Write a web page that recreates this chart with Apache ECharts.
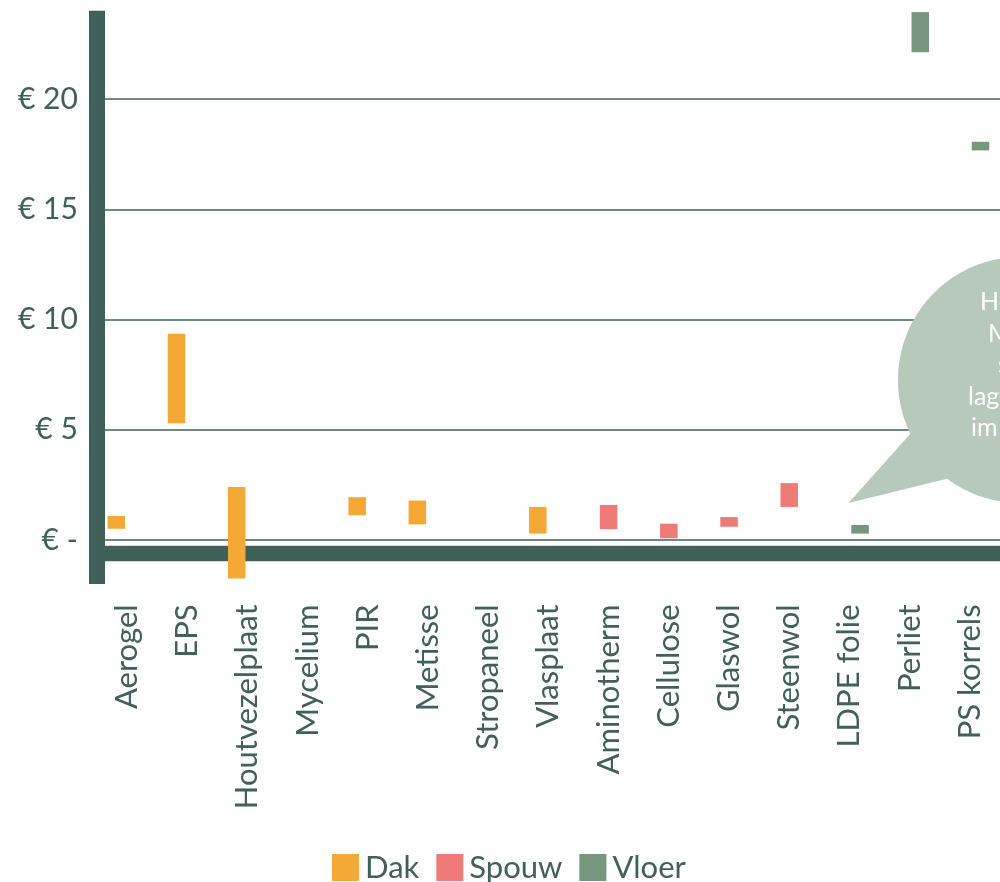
<!DOCTYPE html>
<html>
<head>
<meta charset="utf-8">
<script src="https://cdn.jsdelivr.net/npm/echarts@6/dist/echarts.min.js"></script>
<style>
  html, body { margin: 0; padding: 0; background: #ffffff; }
  #chart { width: 1000px; height: 882px; }
</style>
</head>
<body>
<div id="chart"></div>
<script>
// ---- data ----
const categories = ['Aerogel', 'EPS', 'Houtvezelplaat', 'Mycelium', 'PIR', 'Metisse', 'Stropaneel',
  'Vlasplaat', 'Aminotherm', 'Cellulose', 'Glaswol', 'Steenwol', 'LDPE folie', 'Perliet', 'PS korrels'];
// price range (low / high) per category, in euro
const dakLow   = [0.51, 5.30, -1.75, null, 1.12, 0.71, null, 0.29, null, null, null, null, null, null, null];
const dakHigh  = [1.09, 9.35,  2.40, null, 1.94, 1.79, null, 1.50, null, null, null, null, null, null, null];
const spouwLow  = [null, null, null, null, null, null, null, null, 0.49, 0.08, 0.60, 1.50, null, null, null];
const spouwHigh = [null, null, null, null, null, null, null, null, 1.59, 0.74, 1.04, 2.58, null, null, null];
const vloerLow  = [null, null, null, null, null, null, null, null, null, null, null, null, 0.29, 22.12, 17.67];
const vloerHigh = [null, null, null, null, null, null, null, null, null, null, null, null, 0.68, 23.94, 18.06];
const gridValues = [0, 5, 10, 15, 20];
const seriesNames = ['Dak', 'Spouw', 'Vloer'];
const bubbleLines = ['Hoe de', 'MKI', 'score', 'lager de', 'im'];

// ---- style ----
const DARK = '#40605A';
const COLORS = ['#F4A836', '#EE7B77', '#76967D'];
const FONT = 'Lato';

const lows = [dakLow, spouwLow, vloerLow];
const highs = [dakHigh, spouwHigh, vloerHigh];

const series = [];
seriesNames.forEach((name, i) => {
  const base = lows[i];
  const span = highs[i].map((h, k) => (h == null || base[k] == null) ? null : +(h - base[k]).toFixed(3));
  const baseSeries = {
    name: name + '_base',
    type: 'bar',
    stack: 's' + i,
    stackStrategy: 'all',
    barWidth: 17.5,
    barGap: '-39.4%',
    itemStyle: { color: 'transparent' },
    emphasis: { disabled: true },
    silent: true,
    z: 1,
    data: base
  };
  if (i === 0) {
    baseSeries.markLine = {
      silent: true,
      z: 1,
      symbol: 'none',
      label: { show: false },
      lineStyle: { color: DARK, width: 1.5, type: 'solid' },
      emphasis: { disabled: true },
      data: gridValues.map(v => ({ yAxis: v }))
    };
  }
  series.push(baseSeries);
  series.push({
    name: name,
    type: 'bar',
    stack: 's' + i,
    stackStrategy: 'all',
    barWidth: 17.5,
    barGap: '-39.4%',
    itemStyle: { color: COLORS[i] },
    z: 3,
    data: span
  });
});

const chart = echarts.init(document.getElementById('chart'), null, { renderer: 'canvas' });

const bubbleText = bubbleLines.map((t, i) => ({
  type: 'text',
  z: 12,
  style: {
    text: t,
    x: [980, 988, 998, 968, 971][i],
    y: 302 + i * 31.5,
    fill: '#ffffff',
    font: '25px ' + FONT,
    textVerticalAlign: 'middle',
    textAlign: 'left'
  }
}));

chart.setOption({
  animation: false,
  backgroundColor: '#ffffff',
  textStyle: { fontFamily: FONT },
  grid: { left: 96.8, top: 10.8, width: 909, height: 573.3, containLabel: false },
  legend: {
    data: seriesNames,
    left: 327,
    top: 847,
    icon: 'rect',
    itemWidth: 27,
    itemHeight: 27,
    itemGap: 17,
    textStyle: { color: DARK, fontSize: 31, fontFamily: FONT, padding: [0, 0, 0, 1] },
    selectedMode: false
  },
  xAxis: {
    type: 'category',
    data: categories,
    offset: -30.7,
    axisLine: { show: true, onZero: false, lineStyle: { color: DARK, width: 15.3, cap: 'butt' } },
    axisTick: { show: false },
    axisLabel: {
      rotate: 90,
      margin: 51,
      interval: 0,
      color: DARK,
      fontSize: 31,
      fontFamily: FONT
    },
    splitLine: { show: false }
  },
  yAxis: {
    type: 'value',
    min: -2,
    max: 24,
    axisLine: { show: true, lineStyle: { color: DARK, width: 16, cap: 'butt' } },
    axisTick: { show: false },
    splitLine: { show: false },
    axisLabel: {
      customValues: gridValues,
      margin: 19,
      color: DARK,
      fontSize: 30,
      fontFamily: FONT,
      formatter: v => v === 0 ? '€ -' : '€ ' + v
    }
  },
  graphic: [
    {
      type: 'polygon',
      z: 10,
      shape: { points: [[912, 432], [848.5, 503], [950, 478], [975, 440]] },
      style: { fill: '#B6C9BA' }
    },
    {
      type: 'ellipse',
      z: 10,
      shape: { cx: 1020, cy: 380, rx: 122, ry: 123 },
      style: { fill: '#B6C9BA' }
    }
  ].concat(bubbleText),
  series: series
});
</script>
</body>
</html>
